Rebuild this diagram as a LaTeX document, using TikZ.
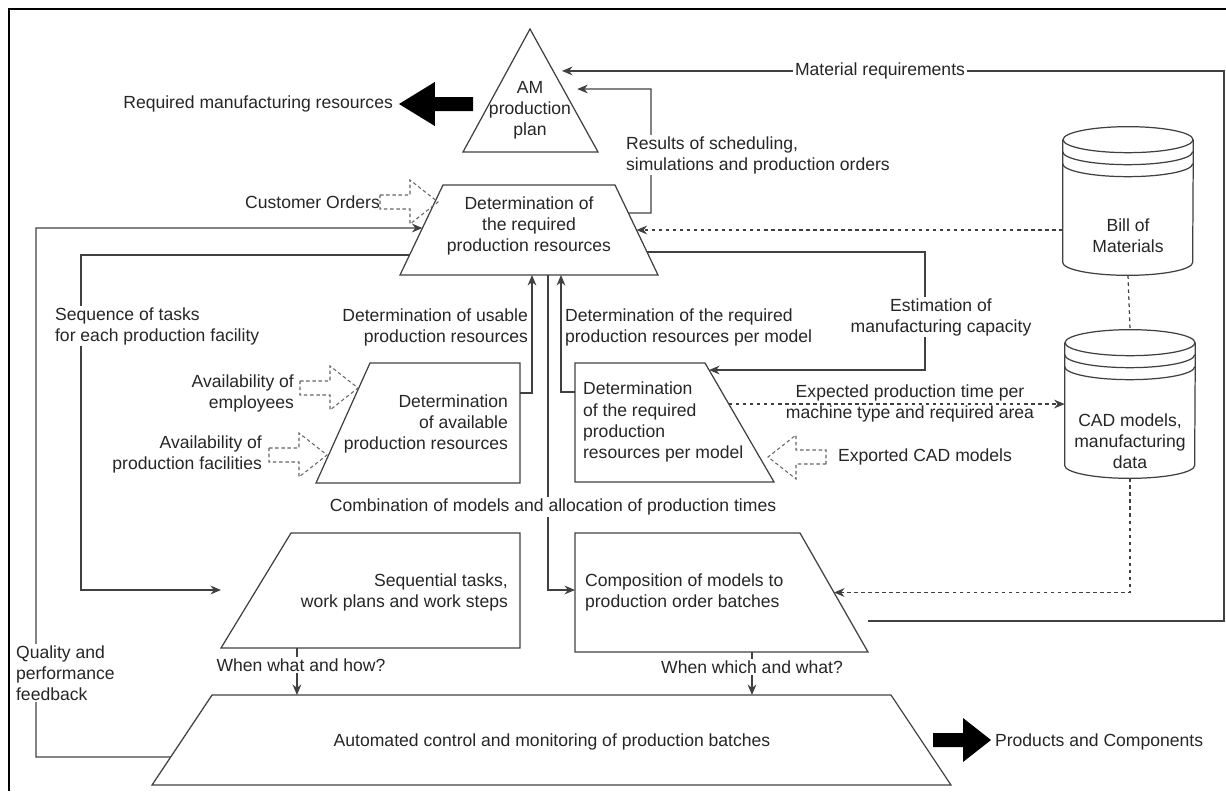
\documentclass[tikz,border=0pt]{standalone}
\usepackage{fontspec}
\setmainfont{Liberation Sans}
\usetikzlibrary{arrows.meta,calc}

\tikzset{
    hollowarrow/.pic={\draw[draw=black!60, line width=0.6pt, dash pattern=on 2pt off 1.5pt] (-58,-7) -- (-28,-7) -- (-28,-22) -- (0,0) -- (-28,22) -- (-28,7) -- (-58,7) -- cycle;},
    solidarrow/.pic={\fill[black] (-58,-7) -- (-28,-7) -- (-28,-22) -- (0,0) -- (-28,22) -- (-28,7) -- (-58,7) -- cycle;}
}

\begin{document}
\begin{tikzpicture}[x=0.02cm, y=-0.02cm,
        box/.style={draw=black!75, line width=0.7pt},
        dbbox/.style={inner sep=0pt, minimum width=2.6cm, minimum height=2.96cm},
        txt/.style={font=\fontsize{10}{12}\selectfont, text=black!85, inner sep=1pt},
        arr/.style={box, -{Stealth[length=6pt, width=5pt]}},
        dasharr/.style={arr, dash pattern=on 2pt off 2pt},
        dashln/.style={box, dash pattern=on 2pt off 2pt}]
    \useasboundingbox (0,0) rectangle (1226,791);
    \draw[line width=1.2pt] (9,791) -- (9,9) -- (1226,9);

    % Corners of the shapes:
    \coordinate (plTop) at (530,29);  \coordinate (plL) at (463,152);  \coordinate (plR) at (598,152);
    \coordinate (rqBL) at (400,275);  \coordinate (rqTL) at (443,185); \coordinate (rqTR) at (615,185); \coordinate (rqBR) at (658,275);
    \coordinate (avBL) at (316,483);  \coordinate (avTL) at (370,363); \coordinate (avTR) at (520,363); \coordinate (avBR) at (520,483);
    \coordinate (pmBL) at (575,482);  \coordinate (pmTL) at (575,363); \coordinate (pmTR) at (705,363); \coordinate (pmBR) at (774,482);
    \coordinate (sqBL) at (221,648);  \coordinate (sqTL) at (291,533); \coordinate (sqTR) at (520,533); \coordinate (sqBR) at (520,648);
    \coordinate (cpBL) at (575,652);  \coordinate (cpTL) at (575,533); \coordinate (cpTR) at (800,533); \coordinate (cpBR) at (868,652);
    \coordinate (auBL) at (152,785);  \coordinate (auTL) at (212,695); \coordinate (auTR) at (891,695); \coordinate (auBR) at (951,785);

    % Shapes:
    \draw[box] (plTop) -- (plR) -- (plL) -- cycle;
    \draw[box] (rqBL) -- (rqTL) -- (rqTR) -- (rqBR) -- cycle;
    \draw[box] (avBL) -- (avTL) -- (avTR) -- (avBR) -- cycle;
    \draw[box] (pmBL) -- (pmTL) -- (pmTR) -- (pmBR) -- cycle;
    \draw[box] (sqBL) -- (sqTL) -- (sqTR) -- (sqBR) -- cycle;
    \draw[box] (cpBL) -- (cpTL) -- (cpTR) -- (cpBR) -- cycle;
    \draw[box] (auBL) -- (auTL) -- (auTR) -- (auBR) -- cycle;
    \node[dbbox](bom) at (1128,201){};
    \node[dbbox](cad) at (1130,404){};
    \foreach \db in {bom,cad}{
        \draw[box, fill=white] ($(\db.north west)+(0,13)$) -- ($(\db.south west)+(0,-13)$) arc[start angle=180, end angle=360, x radius=1.3cm, y radius=0.26cm] -- ($(\db.north east)+(0,13)$);
        \draw[box] ($(\db.north)+(0,13)$) ellipse [x radius=1.3cm, y radius=0.26cm];
        \draw[box] ($(\db.north west)+(0,25)$) arc[start angle=180, end angle=360, x radius=1.3cm, y radius=0.26cm];
        \draw[box] ($(\db.north west)+(0,37)$) arc[start angle=180, end angle=360, x radius=1.3cm, y radius=0.26cm];
    }

    % Wires:
    \coordinate (plM) at ($(plTop)!0.341!(plR)$);
    \coordinate (plR2) at ($(plTop)!0.488!(plR)$);
    \coordinate (mrA) at (1224,621);
    \draw[arr, shorten >=5pt] (cpBR |- mrA) -- (mrA) |- (plM);
    \coordinate (resS) at ($(rqBR)!0.689!(rqTR)$);
    \coordinate (resC) at (651,89);
    \draw[arr, shorten >=8pt] (resS) -| (resC) -- (plR2);
    \coordinate (qS) at ($(auBL)!0.311!(auTL)$);
    \coordinate (qC) at (36,228);
    \coordinate (qE) at ($(rqBL)!0.522!(rqTL)$);
    \draw[arr] (qS) -| (qC) -- (qE);
    \coordinate (sqS) at ($(rqBL)!0.222!(rqTL)$);
    \coordinate (sqC) at (81,590);
    \draw[arr] (sqS) -| (sqC) -- (sqC -| sqBL);
    \coordinate (usS) at ($(avBR)+(0,-90)$);
    \coordinate (usE) at ($(rqBL)!0.5116!(rqBR)$);
    \draw[arr] (usS) -| (usE);
    \coordinate (pmS) at ($(pmBL)+(0,-90)$);
    \coordinate (pmE) at ($(rqBL)!0.624!(rqBR)$);
    \draw[arr] (pmS) -| (pmE);
    \coordinate (cbS) at ($(rqBL)!0.5736!(rqBR)$);
    \coordinate (cbY) at (548,590);
    \draw[arr] (cbS) |- (cbY -| cpBL);
    \coordinate (esS) at ($(rqBR)!0.256!(rqTR)$);
    \coordinate (esC) at (925,370);
    \coordinate (esE) at ($(pmBR)!0.941!(pmTR)$);
    \draw[arr] (esS) -| (esC) -- (esC -| esE);
    \coordinate (rqR) at ($(rqBR)!0.5!(rqTR)$);
    \draw[dasharr] (bom.west |- rqR) -- (rqR);
    \draw[dashln] (bom.south) -- (cad.north);
    \coordinate (cpR) at ($(cpBR)!0.5!(cpTR)$);
    \draw[dasharr] (cad.south) |- (cpR);
    \coordinate (pmX) at ($(pmBR)!0.655!(pmTR)$);
    \draw[dasharr] (pmX) -- (pmX -| cad.west);
    \coordinate (wA) at ($(sqBL)!0.254!(sqBR)$);
    \draw[arr] (wA) -- (wA |- auTL);
    \coordinate (wB) at ($(cpBL)!0.604!(cpBR)$);
    \draw[arr] (wB) -- (wB |- auTL);

    % Big arrows:
    \pic at (438,202) {hollowarrow};
    \pic at (358,388) {hollowarrow};
    \pic at (327,455) {hollowarrow};
    \pic[rotate=180] at (768,457) {hollowarrow};
    \pic[xscale=-1.28] at (399,104) {solidarrow};
    \pic at (991,740) {solidarrow};

    % Texts:
    \node[txt, align=center](plan) at (530,110){AM\\production\\plan};
    \node[txt, anchor=east](reqlbl) at (395,104){Required manufacturing resources};
    \node[txt, fill=white](mreqlbl) at (880,71){Material requirements};
    \node[txt, fill=white, anchor=west, align=left](reslbl) at (624,155){Results of scheduling,\\simulations and production orders};
    \node[txt, anchor=east](custlbl) at (382,202){Customer Orders};
    \node[txt, align=center](reqres) at (529,226){Determination of\\the required\\production resources};
    \node[txt, fill=white, anchor=west, align=left](seqlbl) at (53,326){Sequence of tasks\\for each production facility};
    \node[txt, anchor=east, align=right](uselbl) at (530,327){Determination of usable\\production resources};
    \node[txt, anchor=west, align=left](pmlbl) at (563,327){Determination of the required\\production resources per model};
    \node[txt, fill=white, align=center](estlbl) at (941,317){Estimation of\\manufacturing capacity};
    \node[txt, anchor=east, align=right](avail) at (510,424){Determination\\of available\\production resources};
    \node[txt, anchor=west, align=left](permod) at (581,422){Determination\\of the required\\production\\resources per model};
    \node[txt, anchor=east, align=right](emplbl) at (296,393){Availability of\\employees};
    \node[txt, anchor=east, align=right](faclbl) at (264,454){Availability of\\production facilities};
    \node[txt, align=center](explbl) at (910,403){Expected production time per\\machine type and required area};
    \node[txt, anchor=west](cadlbl) at (836,457){Exported CAD models};
    \node[txt, fill=white](comblbl) at (553,507){Combination of models and allocation of production times};
    \node[txt, anchor=east, align=right](seq) at (510,592){Sequential tasks,\\work plans and work steps};
    \node[txt, anchor=west, align=left](comp) at (583,592){Composition of models to\\production order batches};
    \node[txt, fill=white, anchor=west, align=left](qlbl) at (14,673){Quality and\\performance\\feedback};
    \node[txt, fill=white](w1lbl) at (301,665){When what and how?};
    \node[txt, fill=white](w2lbl) at (752,667){When which and what?};
    \node[txt](auto) at (552,742){Automated control and monitoring of production batches};
    \node[txt, anchor=west](prodlbl) at (993,742){Products and Components};
    \node[txt, align=center](bomtxt) at (1128,236){Bill of\\Materials};
    \node[txt, align=center](cadtxt) at (1130,441){CAD models,\\manufacturing\\data};
\end{tikzpicture}
\end{document}
